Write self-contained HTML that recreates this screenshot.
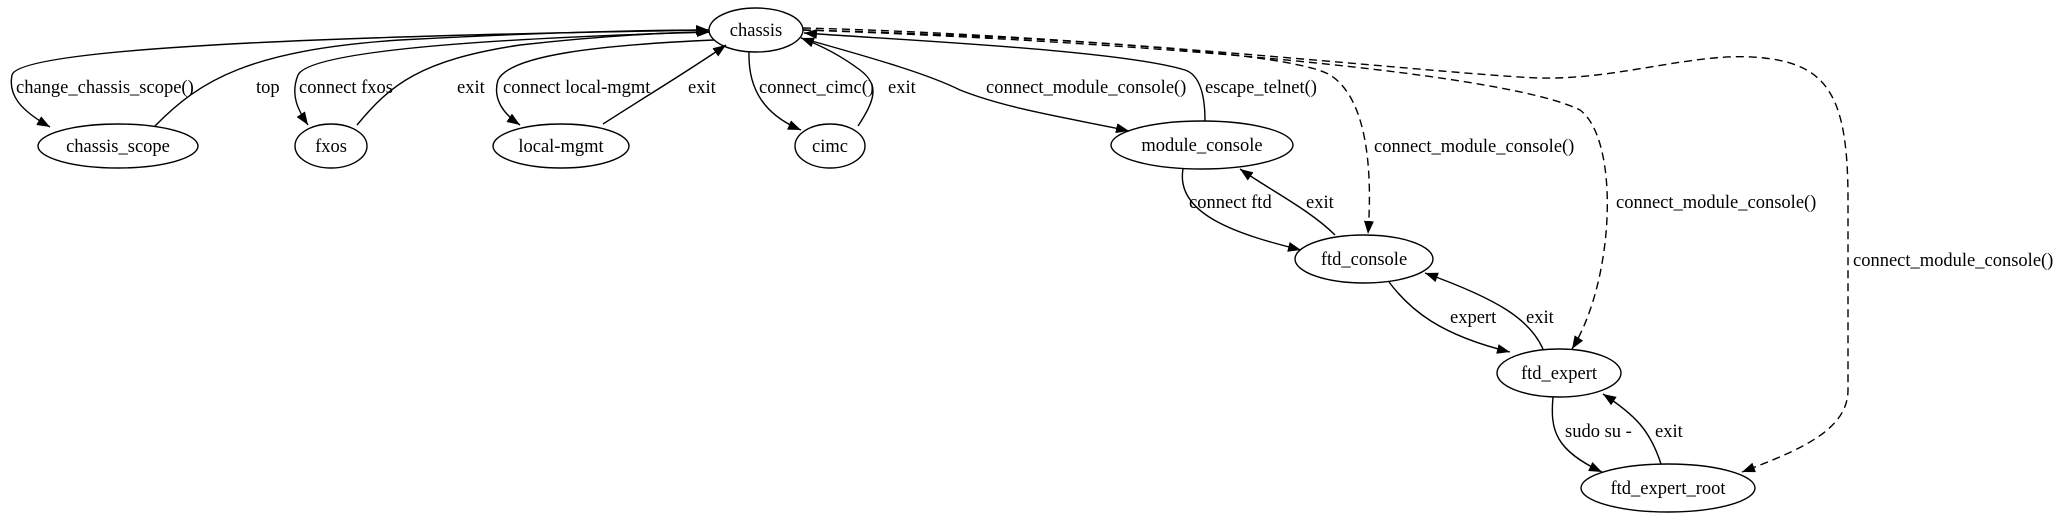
<!DOCTYPE html>
<html><head><meta charset="utf-8"><style>
html,body{margin:0;padding:0;background:#fff}
svg{display:block}
text{font-family:"Liberation Serif",serif;font-size:18.5px;fill:#000}
</style></head><body>
<svg width="2061" height="517" viewBox="0 0 2061 517" xmlns="http://www.w3.org/2000/svg">
<defs>
<marker id="a" markerUnits="userSpaceOnUse" markerWidth="14" markerHeight="10" refX="13" refY="5" orient="auto">
<path d="M0,0 L13,5 L0,10 z" fill="#000"/>
</marker>
</defs>
<g fill="none" stroke="#000" stroke-width="1.4">
<ellipse cx="756" cy="30" rx="47" ry="22"/>
<ellipse cx="118" cy="146" rx="80" ry="22"/>
<ellipse cx="331" cy="146" rx="36" ry="22"/>
<ellipse cx="561" cy="146" rx="68" ry="22"/>
<ellipse cx="830" cy="146" rx="35" ry="22"/>
<ellipse cx="1202" cy="145" rx="91" ry="24"/>
<ellipse cx="1364" cy="259" rx="69" ry="24"/>
<ellipse cx="1559" cy="373" rx="62" ry="24"/>
<ellipse cx="1668" cy="488" rx="87" ry="24"/>
</g>
<g fill="none" stroke="#000" stroke-width="1.4" marker-end="url(#a)">
<path d="M709,30 C400,35 20,45 12,75 C8,95 20,110 50,127"/>
<path d="M155,126 C200,80 250,50 400,40 C550,32 650,30 709,30"/>
<path d="M710,32 C500,38 310,50 298,75 C290,95 298,110 308,125"/>
<path d="M357,125 C390,85 420,60 520,45 C610,35 680,32 710,32"/>
<path d="M714,40 C600,45 510,55 498,80 C492,100 505,115 520,125"/>
<path d="M603,124 C640,100 690,70 726,45"/>
<path d="M749,52 C748,90 765,115 801,130"/>
<path d="M858,126 C875,100 880,85 860,70 C840,55 820,45 801,38"/>
<path d="M801,38 C880,60 930,75 960,90 C1010,110 1080,120 1129,131"/>
<path d="M1205,121 C1205,95 1200,75 1185,70 C1120,50 900,40 804,33"/>
<path d="M1183,169 C1175,215 1240,235 1301,250"/>
<path d="M1335,235 C1310,210 1270,190 1240,169"/>
<path d="M1389,282 C1410,310 1440,335 1510,352"/>
<path d="M1543,349 C1530,320 1500,300 1425,273"/>
<path d="M1553,397 C1550,430 1555,450 1602,472"/>
<path d="M1661,464 C1650,430 1635,415 1603,394"/>
</g>
<g fill="none" stroke="#000" stroke-width="1.4" stroke-dasharray="8,5" marker-end="url(#a)">
<path d="M803,30 C1000,35 1290,50 1330,75 C1370,100 1372,180 1368,234"/>
<path d="M803,30 C1100,40 1500,70 1580,110 C1620,140 1615,280 1572,349"/>
<path d="M803,28 C1100,35 1450,75 1540,78 C1620,80 1700,50 1764,58 C1830,65 1848,100 1848,200 L1848,390 C1848,430 1800,450 1742,472"/>
</g>
<g>
<text x="756" y="36" text-anchor="middle">chassis</text>
<text x="118" y="152" text-anchor="middle">chassis_scope</text>
<text x="331" y="152" text-anchor="middle">fxos</text>
<text x="561" y="152" text-anchor="middle">local-mgmt</text>
<text x="830" y="152" text-anchor="middle">cimc</text>
<text x="1202" y="151" text-anchor="middle">module_console</text>
<text x="1364" y="265" text-anchor="middle">ftd_console</text>
<text x="1559" y="379" text-anchor="middle">ftd_expert</text>
<text x="1668" y="494" text-anchor="middle">ftd_expert_root</text>

<text x="16" y="93">change_chassis_scope()</text>
<text x="256" y="93">top</text>
<text x="299" y="93">connect fxos</text>
<text x="457" y="93">exit</text>
<text x="503" y="93">connect local-mgmt</text>
<text x="688" y="93">exit</text>
<text x="759" y="93">connect_cimc()</text>
<text x="888" y="93">exit</text>
<text x="986" y="93">connect_module_console()</text>
<text x="1205" y="93">escape_telnet()</text>
<text x="1374" y="152">connect_module_console()</text>
<text x="1189" y="208">connect ftd</text>
<text x="1306" y="208">exit</text>
<text x="1616" y="208">connect_module_console()</text>
<text x="1450" y="323">expert</text>
<text x="1526" y="323">exit</text>
<text x="1853" y="266">connect_module_console()</text>
<text x="1565" y="437">sudo su -</text>
<text x="1655" y="437">exit</text>
</g>
</svg>
</body></html>
